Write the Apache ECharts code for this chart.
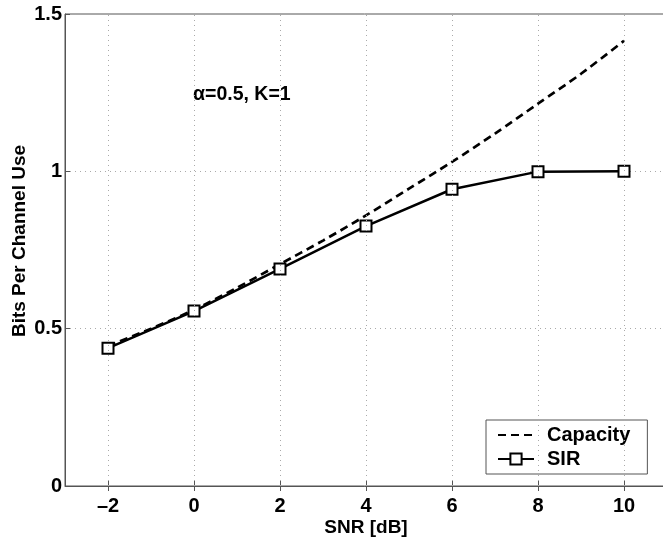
<!DOCTYPE html>
<html>
<head>
<meta charset="utf-8">
<script src="https://cdn.jsdelivr.net/npm/echarts@6/dist/echarts.min.js"></script>
<style>
  html, body { margin: 0; padding: 0; background: #fff; }
  #chart { width: 663px; height: 538px; }
</style>
</head>
<body>
<div id="chart"></div>
<script>
// SNR in dB
const snrCap = [-2, -1, 0, 1, 2, 3, 4, 5, 6, 7, 8, 9, 10];
const capacity = [0.445, 0.50, 0.56, 0.63, 0.705, 0.78, 0.86, 0.945, 1.03, 1.12, 1.215, 1.31, 1.415];
const snrSir = [-2, 0, 2, 4, 6, 8, 10];
const sir = [0.438, 0.556, 0.69, 0.826, 0.943, 0.999, 1.0];
const xTicks = [-2, 0, 2, 4, 6, 8, 10];

const font = '"Liberation Sans", Arial, Helvetica, sans-serif';
const axisColor = '#555';

let chart = echarts.init(document.getElementById('chart'));

const option = {
    animation: false,
    textStyle: { fontFamily: font },
    grid: {
        left: 65,
        top: 14,
        right: -4,
        bottom: 52,
        outerBoundsMode: 'none',
        containLabel: false,
        show: true,
        borderColor: axisColor,
        borderWidth: 1
    },
    legend: {
        orient: 'vertical',
        left: 486,
        top: 420,
        padding: [5, 17, 5, 11],
        itemGap: 4,
        itemWidth: 36,
        itemHeight: 14,
        backgroundColor: '#fff',
        borderColor: axisColor,
        borderWidth: 1,
        textStyle: { fontSize: 20, fontWeight: 'bold', color: '#000', fontFamily: font, padding: [0, 0, 0, 8] },
        data: [
            { name: 'Capacity', itemStyle: { opacity: 0 } },
            { name: 'SIR' }
        ]
    },
    graphic: [{
        type: 'text',
        left: 193,
        top: 85,
        style: {
            text: 'α=0.5, K=1',
            font: 'bold 19.5px ' + font,
            fill: '#000'
        }
    }],
    xAxis: [{
        type: 'value',
        min: -3,
        max: 11,
        name: 'SNR [dB]',
        nameLocation: 'middle',
        nameGap: 32,
        nameMoveOverlap: false,
        nameTextStyle: { fontSize: 19, fontWeight: 'bold', color: '#000' },
        axisLine: { show: true, onZero: false, lineStyle: { color: axisColor } },
        axisTick: { show: true, inside: true, length: 5, customValues: xTicks, lineStyle: { color: axisColor } },
        axisLabel: {
            customValues: xTicks,
            fontSize: 20, fontWeight: 'bold', color: '#000', margin: 10,
            formatter: v => (v < 0 ? '\u2013' + Math.abs(v) : String(v))
        },
        splitLine: { show: false }
    }, {
        type: 'value',
        position: 'top',
        min: -3,
        max: 11,
        axisLine: { show: false },
        axisTick: { show: true, inside: true, length: 5, customValues: xTicks, lineStyle: { color: axisColor } },
        axisLabel: { show: false },
        splitLine: { show: false }
    }],
    yAxis: {
        type: 'value',
        min: 0,
        max: 1.5,
        interval: 0.5,
        name: 'Bits Per Channel Use',
        nameLocation: 'middle',
        nameGap: 36,
        nameMoveOverlap: false,
        nameTextStyle: { fontSize: 19, fontWeight: 'bold', color: '#000', padding: [0, 0, 0, 18] },
        axisLine: { show: true, onZero: false, lineStyle: { color: axisColor } },
        axisTick: { show: true, inside: true, length: 5, lineStyle: { color: axisColor } },
        axisLabel: { fontSize: 20, fontWeight: 'bold', color: '#000', margin: 3, padding: [4, 0, 0, 0] },
        splitLine: { show: true, lineStyle: { color: '#aaa', type: [1, 4], width: 1 } }
    },
    series: [
        {
            name: 'Capacity',
            type: 'line',
            data: snrCap.map((x, i) => [x, capacity[i]]),
            smooth: 0.3,
            symbol: 'none',
            lineStyle: { color: '#000', width: 2.7, type: [8, 5] },
            itemStyle: { color: '#000' },
            z: 3,
            markLine: {
                silent: true,
                symbol: 'none',
                label: { show: false },
                lineStyle: { color: '#aaa', type: [1, 4], width: 1 },
                data: xTicks.map(v => ({ xAxis: v }))
            }
        },
        {
            name: 'SIR',
            type: 'line',
            data: snrSir.map((x, i) => [x, sir[i]]),
            symbol: 'rect',
            symbolSize: 11,
            showSymbol: true,
            lineStyle: { color: '#000', width: 2.5 },
            itemStyle: { color: '#fff', borderColor: '#000', borderWidth: 2 },
            z: 4
        }
    ]
};

chart.setOption(option);

window.addEventListener('resize', function () {
    chart.resize();
});
</script>
</body>
</html>
